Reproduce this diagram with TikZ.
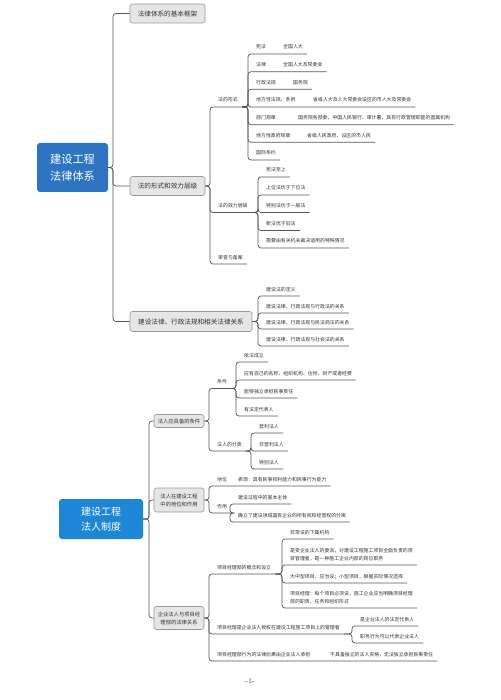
\documentclass[tikz,border=0pt]{standalone}
\usepackage{fontspec}
\usepackage{tikz}
\usetikzlibrary{calc}
\newfontfamily\cjk{Noto Sans CJK SC}

\definecolor{rootblue}{HTML}{2D74C3}
\definecolor{rootsky}{HTML}{1D87D6}
\definecolor{linegray}{HTML}{575757}
\definecolor{boxgray}{HTML}{E6E6E6}
\definecolor{boxline}{HTML}{999999}
\definecolor{txt}{HTML}{333333}

% first text in a fixed width, second one after it
\newcommand{\twocol}[3]{\makebox[#1][l]{#2}#3}
% two lines, baseline on the last one
\newcommand{\twolines}[2]{\begin{tabular}[b]{@{}l@{}}#1\\#2\end{tabular}}

\begin{document}
\begin{tikzpicture}[x=1pt, y=-1pt,
    every node/.style={font=\cjk, text=txt},
    root/.style={rounded corners=3pt, text=white, align=center, inner sep=0pt},
    topic/.style={draw=boxline, fill=boxgray, rounded corners=2.5pt, line width=0.6pt, align=center, inner sep=0pt},
    item/.style={anchor=south west, inner xsep=4pt, inner ysep=4pt, text depth=0.8pt,
      font=\cjk\fontsize{4.9}{7.5}\selectfont, execute at begin node={\hspace*{4pt}}},
    branch/.style={draw=linegray, line width=0.7pt, rounded corners=3pt}]

        \fill[white] (0,0) rectangle (500,700);
        \useasboundingbox (0,0) rectangle (500,700);

        % ---------- part one: the legal system ----------
        \node[root, fill=rootblue, minimum width=71pt, minimum height=49pt,
          font=\cjk\fontsize{11.2}{16.5}\selectfont] (law) at (72.5,167.5) {建设工程\\法律体系};
        \coordinate (s1) at (113,0);

        \node[topic, minimum width=75pt, minimum height=19pt, font=\cjk\fontsize{6.6}{8}\selectfont] (frame) at (167.5,13.5) {法律体系的基本框架};
        \node[topic, minimum width=75pt, minimum height=19pt, font=\cjk\fontsize{6.6}{8}\selectfont] (level) at (167.5,186) {法的形式和效力层级};
        \node[topic, minimum width=122pt, minimum height=20pt, font=\cjk\fontsize{6.6}{8}\selectfont] (relation) at (191,321.5) {建设法律、行政法规和相关法律关系};

        \foreach \t in {frame, level, relation}
          \draw[branch] (law.east) -- (law.east -| s1) |- (\t.west);

        % forms and hierarchy of law
        \node[item] (form) at (210,107) {法的形式};
        \node[item] (rank) at (210,212.5) {法的效力层级};
        \node[item] (review) at (210,264) {审查与备案};
        \foreach \t in {form, rank, review}
          \draw[branch] (level.east) -- (level.east -| \t.south west) |- (\t.south east);

        \foreach \y/\t [count=\i] in {54/{\twocol{27pt}{宪法}{全国人大}},
            71.7/{\twocol{27pt}{法律}{全国人大及常委会}},
            89.3/{\twocol{37pt}{行政法规}{国务院}},
            107/{\twocol{57pt}{地方性法规、条例}{省级人大及人大常委会设区的市人大及常委会}},
            124.7/{\twocol{42pt}{部门规章}{国务院各部委、中国人民银行、审计署、具有行政管理职能的直属机构}},
            142.3/{\twocol{51pt}{地方性政府规章}{省级人民政府、设区的市人民}},
            160/{国际条约}}
        {
          \node[item] (form\i) at (248,\y) {\t};
          \draw[branch] (form.south east) -- (form.south east -| form\i.south west) |- (form\i.south east);
        }

        \foreach \y/\t [count=\i] in {177/宪法至上, 195/上位法优于下位法, 212.5/特别法优于一般法,
            230.5/新法优于旧法, 248/需要由有关机关裁决适用的特殊情况}
        {
          \node[item] (rank\i) at (258,\y) {\t};
          \draw[branch] (rank.south east) -- (rank.south east -| rank\i.south west) |- (rank\i.south east);
        }

        % construction law and related laws
        \foreach \y/\t [count=\i] in {296/建设法的定义, 313/建设法律、行政法规与行政法的关系,
            329/建设法律、行政法规与民法商法的关系, 346/建设法律、行政法规与社会法的关系}
        {
          \node[item] (rel\i) at (258,\y) {\t};
          \draw[branch] (relation.east) -- (relation.east -| rel\i.south west) |- (rel\i.south east);
        }

        % ---------- part two: legal person ----------
        \node[root, fill=rootsky, minimum width=84pt, minimum height=40pt,
          font=\cjk\fontsize{10}{15}\selectfont] (person) at (101,519) {建设工程\\法人制度};
        \coordinate (s2) at (149,0);

        \node[topic, minimum width=50pt, minimum height=13pt, font=\cjk\fontsize{5.3}{8}\selectfont] (cond) at (179,421) {法人应具备的条件};
        \node[topic, minimum width=50pt, minimum height=24pt, font=\cjk\fontsize{5.3}{8}\selectfont] (role) at (179,500) {法人在建设工程\\中的地位和作用};
        \node[topic, minimum width=50pt, minimum height=23pt, font=\cjk\fontsize{5.3}{8}\selectfont] (dept) at (179,618) {企业法人与项目经\\理部的法律关系};

        \foreach \t in {cond, role, dept}
          \draw[branch] (person.east) -- (person.east -| s2) |- (\t.west);

        % conditions and kinds
        \node[item] (need) at (209,388.5) {条件};
        \node[item] (kind) at (209,451) {法人的分类};
        \foreach \t in {need, kind}
          \draw[branch] (cond.east) -- (cond.east -| \t.south west) |- (\t.south east);

        \foreach \y/\t [count=\i] in {362/依法成立, 380/应有自己的名称、组织机构、住所、财产或者经费,
            398/能够独立承担民事责任, 416/有法定代表人}
        {
          \node[item] (need\i) at (236,\y) {\t};
          \draw[branch] (need.south east) -- (need.south east -| need\i.south west) |- (need\i.south east);
        }

        \foreach \y/\t [count=\i] in {433/营利法人, 451/非营利法人, 469/特别法人}
        {
          \node[item] (kind\i) at (251,\y) {\t};
          \draw[branch] (kind.south east) -- (kind.south east -| kind\i.south west) |- (kind\i.south east);
        }

        % status and function
        \node[item] (status) at (209,486) {\twocol{21pt}{地位}{表现：具有民事权利能力和民事行为能力}};
        \node[item] (use) at (209,513) {作用};
        \foreach \t in {status, use}
          \draw[branch] (role.east) -- (role.east -| \t.south west) |- (\t.south east);

        \foreach \y/\t [count=\i] in {504/建设过程中的基本主体, 522/确立了建设领域国有企业的所有权和经营权的分离}
        {
          \node[item] (use\i) at (230,\y) {\t};
          \draw[branch] (use.south east) -- (use.south east -| use\i.south west) |- (use\i.south east);
        }

        % project manager department
        \node[item] (setup) at (209,574) {项目经理部的概念和设立};
        \node[item] (mgr) at (209,634) {项目经理是企业法人授权在建设工程施工项目上的管理者};
        \node[item] (result) at (209,661) {\twocol{113pt}{项目经理部行为的法律后果由企业法人承担}{不具备独立的法人资格，无法独立承担民事责任}};
        \foreach \t in {setup, mgr, result}
          \draw[branch] (dept.east) -- (dept.east -| \t.south west) |- (\t.south east);

        \foreach \y/\t [count=\i] in {539/非常设的下属机构,
            565/{\twolines{是受企业法人的委派，对建设工程施工项目全面负责的项}{目管理者，是一种施工企业内部的岗位职务}},
            583/大中型项目，应当设；小型项目，根据实际情况选择,
            608/{\twolines{项目经理：每个项目必须设，施工企业应当明确项目经理}{部的职责、任务和组织形式}}}
        {
          \node[item] (setup\i) at (282,\y) {\t};
          \draw[branch] (setup.south east) -- (setup.south east -| setup\i.south west) |- (setup\i.south east);
        }

        \foreach \y/\t [count=\i] in {626/是企业法人的法定代表人, 643/职务行为可以代表企业法人}
        {
          \node[item] (mgr\i) at (352,\y) {\t};
          \draw[branch] (mgr.south east) -- (mgr.south east -| mgr\i.south west) |- (mgr\i.south east);
        }

        % page number
        \node[font=\rmfamily\fontsize{7}{8}\selectfont] (page) at (250,681) {-1-};
      \end{tikzpicture}
\end{document}
